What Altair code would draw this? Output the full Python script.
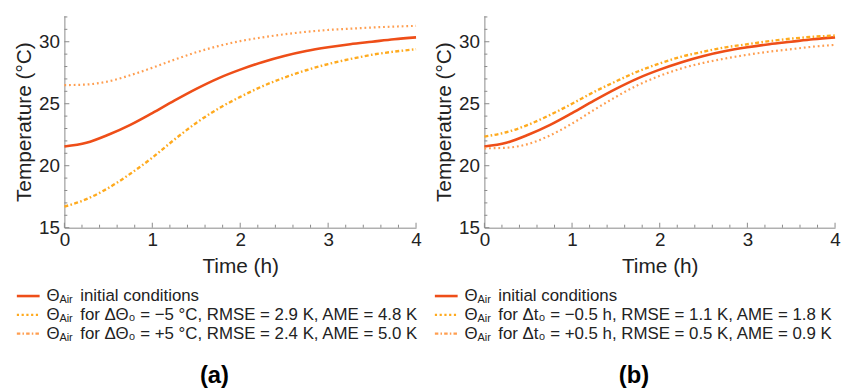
import altair as alt
import pandas as pd

# ---------------- data ----------------
time_h = [0.0, 0.25, 0.5, 0.75, 1.0, 1.25, 1.5, 1.75, 2.0, 2.25, 2.5, 2.75, 3.0, 3.25, 3.5, 3.75, 4.0]

# panel (a)
a_initial = [21.55, 21.85, 22.5, 23.3, 24.25, 25.25, 26.2, 27.05, 27.75, 28.35, 28.85, 29.25, 29.55, 29.8, 30.0, 30.2, 30.35]
a_dotted = [26.5, 26.55, 26.8, 27.3, 27.9, 28.55, 29.15, 29.65, 30.05, 30.35, 30.6, 30.8, 30.95, 31.05, 31.15, 31.22, 31.28]
a_dashdot = [16.7, 17.3, 18.2, 19.35, 20.65, 22.1, 23.45, 24.6, 25.55, 26.4, 27.1, 27.7, 28.2, 28.6, 28.95, 29.2, 29.4]

# panel (b)
b_initial = a_initial
b_dotted = [21.4, 21.45, 21.75, 22.45, 23.4, 24.5, 25.55, 26.5, 27.25, 27.85, 28.3, 28.65, 28.95, 29.2, 29.4, 29.6, 29.75]
b_dashdot = [22.35, 22.7, 23.3, 24.1, 25.0, 25.95, 26.8, 27.6, 28.25, 28.8, 29.2, 29.55, 29.8, 30.05, 30.25, 30.4, 30.5]

x_major_ticks = [0, 1, 2, 3, 4]
x_minor_ticks = [0.2, 0.4, 0.6, 0.8, 1.2, 1.4, 1.6, 1.8, 2.2, 2.4, 2.6, 2.8, 3.2, 3.4, 3.6, 3.8]
y_major_ticks = [15, 20, 25, 30]
y_minor_ticks = [16, 17, 18, 19, 21, 22, 23, 24, 26, 27, 28, 29, 31, 32]

legend_a = ["initial conditions",
            "for ΔΘ₀ = −5 °C, RMSE = 2.9 K, AME = 4.8 K",
            "for ΔΘ₀ = +5 °C, RMSE = 2.4 K, AME = 5.0 K"]
legend_b = ["initial conditions",
            "for Δt₀ = −0.5 h, RMSE = 1.1 K, AME = 1.8 K",
            "for Δt₀ = +0.5 h, RMSE = 0.5 K, AME = 0.9 K"]
panel_labels = ["(a)", "(b)"]

# ---------------- styles ----------------
FONT = "Liberation Sans"
SOLID = "#EE4E18"
LIGHT = "#FF9E50"
AMBER = "#FFAA1E"
AXIS_GRAY = "#8a8a8a"
TEXT = "#222222"
H = 214
DOT = [1.8, 2.9]
DASHDOT = [4, 2.4, 1.6, 2.4]

x_scale = alt.Scale(domain=[0, 4], nice=False, zero=False)
y_scale = alt.Scale(domain=[15, 32.1], nice=False, zero=False)

x_axis = alt.Axis(values=x_major_ticks, format="d", ticks=False, grid=False,
                  labelFlush=False, labelOverlap=False, labelPadding=3,
                  labelFontSize=19, labelFont=FONT, labelColor=TEXT,
                  title="Time (h)", titleFontSize=21, titleFont=FONT,
                  titleFontWeight="normal", titleColor=TEXT, titlePadding=6,
                  domainColor=AXIS_GRAY, domainWidth=1)
y_axis = alt.Axis(values=y_major_ticks, format="d", ticks=False, grid=False,
                  labelFlush=False, labelOverlap=False, labelPadding=5,
                  labelFontSize=19, labelFont=FONT, labelColor=TEXT,
                  title="Temperature (°C)", titleFontSize=21, titleFont=FONT,
                  titleFontWeight="normal", titleColor=TEXT, titlePadding=4,
                  domainColor=AXIS_GRAY, domainWidth=1)

X = alt.X("t:Q", scale=x_scale, axis=x_axis)
Y = alt.Y("v:Q", scale=y_scale, axis=y_axis)


def make_panel(initial, dotted, dashdot, dotted_color, dashdot_color, legend, label, W, lx):
    df_init = pd.DataFrame({"t": time_h, "v": initial})
    df_dot = pd.DataFrame({"t": time_h, "v": dotted})
    df_dd = pd.DataFrame({"t": time_h, "v": dashdot})

    main = alt.Chart(df_init).mark_line(color=SOLID, strokeWidth=2.6, interpolate="monotone").encode(x=X, y=Y)
    dot = alt.Chart(df_dot).mark_line(color=dotted_color, strokeWidth=2.2, strokeDash=DOT,
                                      interpolate="monotone").encode(x=X, y=Y)
    dd = alt.Chart(df_dd).mark_line(color=dashdot_color, strokeWidth=2.4, strokeDash=DASHDOT,
                                    interpolate="monotone").encode(x=X, y=Y)

    # inward ticks
    xmaj = alt.Chart(pd.DataFrame({"t": x_major_ticks})).mark_rule(color=AXIS_GRAY, strokeWidth=1).encode(
        x=X, y=alt.value(H), y2=alt.value(H - 5))
    xmin = alt.Chart(pd.DataFrame({"t": x_minor_ticks})).mark_rule(color=AXIS_GRAY, strokeWidth=1).encode(
        x=X, y=alt.value(H), y2=alt.value(H - 3))
    ymaj = alt.Chart(pd.DataFrame({"v": y_major_ticks})).mark_rule(color=AXIS_GRAY, strokeWidth=1).encode(
        y=Y, x=alt.value(0), x2=alt.value(5))
    ymin = alt.Chart(pd.DataFrame({"v": y_minor_ticks})).mark_rule(color=AXIS_GRAY, strokeWidth=1).encode(
        y=Y, x=alt.value(0), x2=alt.value(3))

    one = pd.DataFrame({"k": [0]})
    rows_y = [283, 302, 321]
    styles = [dict(color=SOLID, strokeWidth=2.6),
              dict(color=AMBER, strokeWidth=2.2, strokeDash=[2.2, 2.6]),
              dict(color=LIGHT, strokeWidth=2.2, strokeDash=[3.5, 2.2, 1.5, 2.2])]
    leg_layers = []
    for i in range(3):
        yy = rows_y[i]
        leg_layers.append(alt.Chart(one).mark_rule(**styles[i]).encode(
            x=alt.value(lx), x2=alt.value(lx + 23), y=alt.value(yy)))
        leg_layers.append(alt.Chart(one).mark_text(align="left", baseline="middle", font=FONT,
                                                   fontSize=17, color=TEXT).encode(
            x=alt.value(lx + 30), y=alt.value(yy), text=alt.value("Θ")))
        leg_layers.append(alt.Chart(one).mark_text(align="left", baseline="middle", font=FONT,
                                                   fontSize=11, color=TEXT).encode(
            x=alt.value(lx + 43), y=alt.value(yy + 4), text=alt.value("Air")))
        leg_layers.append(alt.Chart(one).mark_text(align="left", baseline="middle", font=FONT,
                                                   fontSize=17, color=TEXT).encode(
            x=alt.value(lx + 64), y=alt.value(yy), text=alt.value(legend[i])))
    lab = alt.Chart(one).mark_text(align="center", baseline="middle", font=FONT, fontSize=24,
                                   fontWeight="bold", color="#000").encode(
        x=alt.value(W / 2 - 26), y=alt.value(364), text=alt.value(label))

    return alt.layer(main, dot, dd, xmaj, xmin, ymaj, ymin, *leg_layers, lab).properties(width=W, height=H)


panel_a = make_panel(a_initial, a_dotted, a_dashdot, LIGHT, AMBER, legend_a, panel_labels[0], 355, -48)
panel_b = make_panel(b_initial, b_dotted, b_dashdot, LIGHT, AMBER, legend_b, panel_labels[1], 354, -50)

chart = alt.hconcat(panel_a, panel_b, spacing=69, bounds="flush").properties(
    padding={"left": 13, "top": 14, "right": 0, "bottom": 0},
    background="white",
).configure_view(stroke=None)

chart.save("out.html", embed_options={"renderer": "svg", "actions": False})
